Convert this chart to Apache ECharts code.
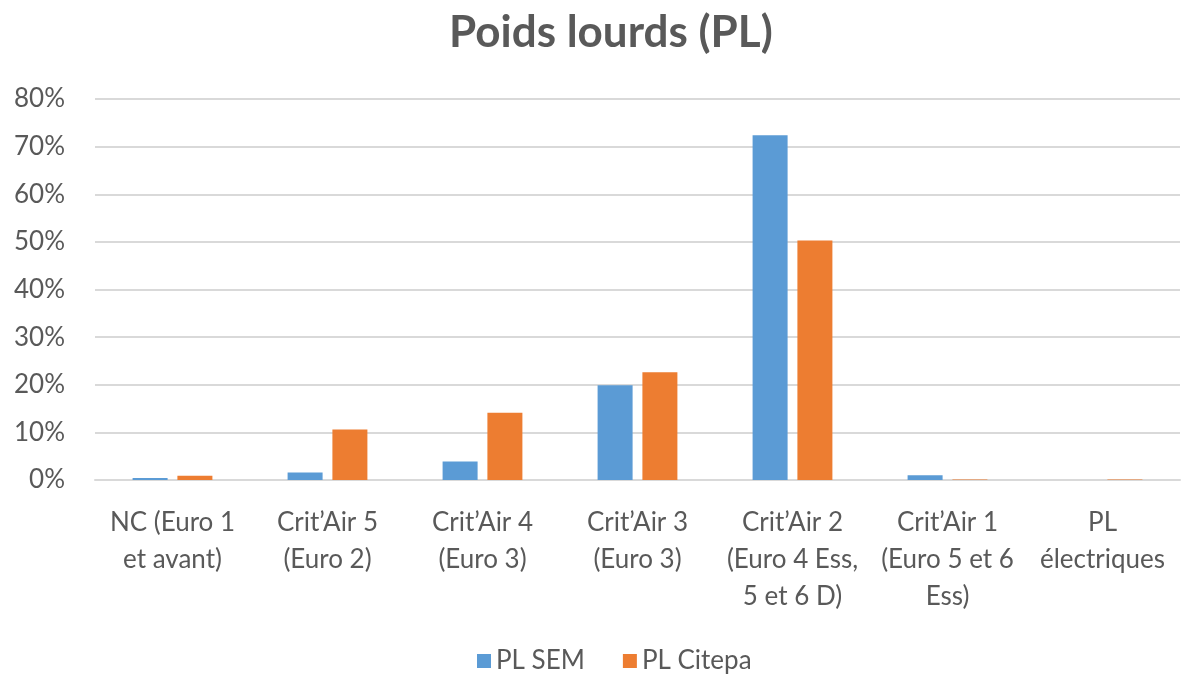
<!DOCTYPE html>
<html>
<head>
<meta charset="utf-8">
<script src="https://cdn.jsdelivr.net/npm/echarts@6/dist/echarts.min.js"></script>
<style>
  html, body { margin: 0; padding: 0; background: #fff; }
  #chart { width: 1190px; height: 681px; }
</style>
</head>
<body>
<div id="chart"></div>
<script>
// categories (x axis)
var categories = [
  'NC (Euro 1\net avant)',
  'Crit\u2019Air 5\n(Euro 2)',
  'Crit\u2019Air 4\n(Euro 3)',
  'Crit\u2019Air 3\n(Euro 3)',
  'Crit\u2019Air 2\n(Euro 4 Ess,\n5 et 6 D)',
  'Crit\u2019Air 1\n(Euro 5 et 6\nEss)',
  'PL\nélectriques'
]
// valeurs en %
var plSem = [0.4, 1.6, 3.9, 19.9, 72.4, 1.0, 0]
var plCitepa = [0.9, 10.6, 14.1, 22.6, 50.3, 0.1, 0.1]
var seriesNames = ['PL SEM', 'PL Citepa']

var textColor = '#595959'
var font = 'Lato, "Open Sans", sans-serif'

var myChart = echarts.init(document.getElementById('chart'))
var option = {
  animation: false,
  title: {
    text: 'Poids lourds (PL)',
    left: 444,
    top: 6,
    textStyle: { color: textColor, fontSize: 44, fontWeight: 'bold', fontFamily: font }
  },
  legend: {
    data: seriesNames,
    bottom: 2,
    left: 472,
    itemWidth: 14,
    itemHeight: 14,
    itemGap: 38,
    icon: 'rect',
    textStyle: { color: textColor, fontSize: 26, fontFamily: font }
  },
  grid: { left: 95, right: 10, top: 99, bottom: 201 },
  xAxis: {
    type: 'category',
    data: categories,
    axisTick: { show: false },
    axisLine: { lineStyle: { color: '#d9d9d9', width: 2 } },
    axisLabel: {
      color: textColor,
      fontSize: 26,
      fontFamily: font,
      lineHeight: 37,
      margin: 24,
      interval: 0
    }
  },
  yAxis: {
    type: 'value',
    min: 0,
    max: 80,
    interval: 10,
    axisLine: { show: false },
    axisTick: { show: false },
    splitLine: { lineStyle: { color: '#d9d9d9', width: 2 } },
    axisLabel: {
      color: textColor,
      fontSize: 26,
      fontFamily: font,
      margin: 30,
      formatter: '{value}%'
    }
  },
  series: [
    {
      name: seriesNames[0],
      type: 'bar',
      data: plSem,
      barWidth: 35,
      barGap: '28%',
      itemStyle: { color: '#5B9BD5' }
    },
    {
      name: seriesNames[1],
      type: 'bar',
      data: plCitepa,
      barWidth: 35,
      itemStyle: { color: '#ED7D31' }
    }
  ]
}
myChart.setOption(option, true)
window.addEventListener('resize', function () {
  myChart.resize()
})
</script>
</body>
</html>
